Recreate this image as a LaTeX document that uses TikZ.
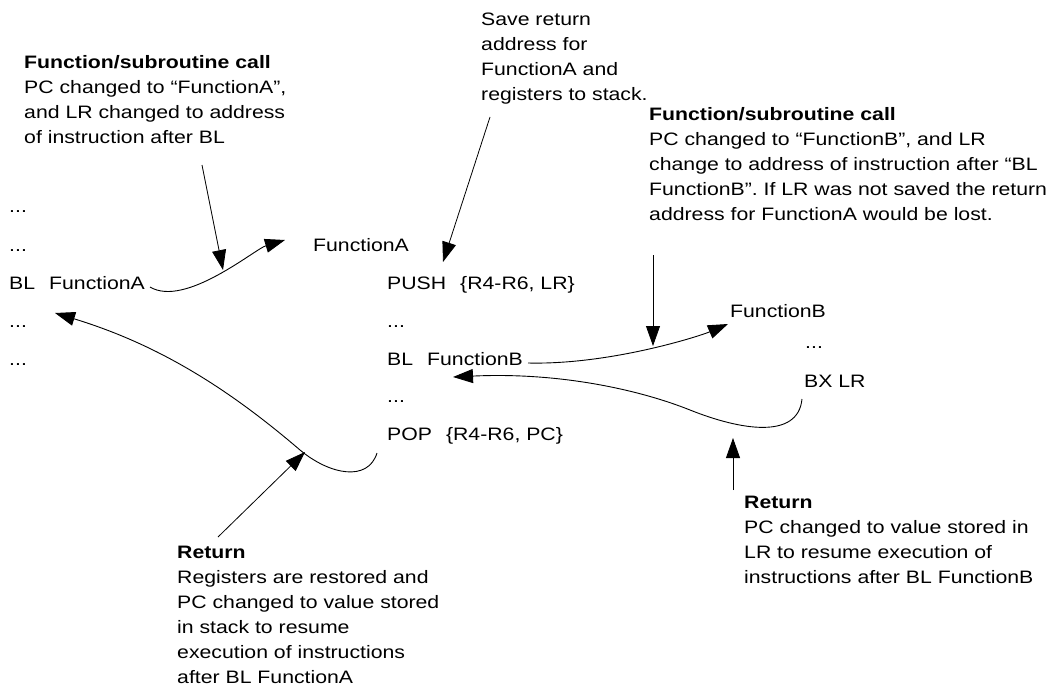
\documentclass[tikz,border=0pt]{standalone}
\usepackage{fontspec}
\setmainfont{Liberation Sans}[FakeStretch=1.18]
\usepackage{tikz}
\usetikzlibrary{arrows.meta}
\tikzset{
  code/.style={anchor=base west, inner sep=0pt, font=\fontsize{18}{25}\selectfont},
  note/.style={anchor=base west, inner sep=0pt, align=left,
    font=\fontsize{18}{25}\selectfont},
  flow/.style={-{Triangle[length=20pt,width=14pt]}, line width=0.9pt},
  pointer/.style={-{Triangle[length=20pt,width=14pt]}, line width=0.8pt}
}

\begin{document}
\begin{tikzpicture}[x=1pt,y=-1pt]
  \useasboundingbox (0,0) rectangle (1058,688);
  % caller
  \node[code] (c1) at (9,212) {...};
  \node[code] (c2) at (9,251) {...};
  \node[code] (blA) at (9,289) {BL\hspace{14pt}FunctionA};
  \node[code] (c4) at (9,327) {...};
  \node[code] (c5) at (9,365) {...};
  % FunctionA
  \node[code] (fnA) at (313,251) {FunctionA};
  \node[code] (push) at (387,289) {PUSH\hspace{14pt}\{R4-R6, LR\}};
  \node[code] (a2) at (387,327) {...};
  \node[code] (blB) at (387,365) {BL\hspace{14pt}FunctionB};
  \node[code] (a4) at (387,402) {...};
  \node[code] (pop) at (387,440) {POP\hspace{14pt}\{R4-R6, PC\}};
  % FunctionB
  \node[code] (fnB) at (730,317) {FunctionB};
  \node[code] (b2) at (805,348) {...};
  \node[code] (bx) at (804,387) {BX LR};
  % notes (placed by their last line)
  \node[note] (callA) at (24,143) {\textbf{Function/subroutine call}\\PC changed to “FunctionA”,\\and LR changed to address\\of instruction after BL};
  \node[note] (save) at (481,100) {Save return\\address for\\FunctionA and\\registers to stack.};
  \node[note] (callB) at (649,220) {\textbf{Function/subroutine call}\\PC changed to “FunctionB”, and LR\\change to address of instruction after “BL\\FunctionB”. If LR was not saved the return\\address for FunctionA would be lost.};
  \node[note] (retB) at (744,583) {\textbf{Return}\\PC changed to value stored in\\LR to resume execution of\\instructions after BL FunctionB};
  \node[note] (retA) at (177,683) {\textbf{Return}\\Registers are restored and\\PC changed to value stored\\in stack to resume\\execution of instructions\\after BL FunctionA};
  % curve ends
  \coordinate (blAout) at (150,287);
  \coordinate (fnAin) at (285,240);
  \coordinate (blBout) at (528,363);
  \coordinate (fnBin) at (728,324);
  \coordinate (bxout) at (802,399);
  \coordinate (blBin) at (453,377);
  \coordinate (popout) at (377,453);
  \coordinate (c4in) at (55,313);
  % pointer ends
  \coordinate (callAfoot) at (202,165);
  \coordinate (callAhit) at (223,270);
  \coordinate (savefoot) at (490,117);
  \coordinate (savehit) at (443,262);
  \coordinate (callBfoot) at (653,255);
  \coordinate (callBhit) at (653,346);
  \coordinate (retAfoot) at (218,537);
  \coordinate (retAhit) at (305,452);
  \coordinate (retBfoot) at (733,490);
  \coordinate (retBhit) at (733,438);
  % calls and returns
  \draw[flow] (blAout) .. controls (185,308) and (255,249) .. (fnAin);
  \draw[flow] (blBout) .. controls (610,365) and (700,336) .. (fnBin);
  \draw[flow] (bxout) .. controls (798,440) and (740,430) .. (690,410)
    .. controls (640,390) and (560,372) .. (blBin);
  \draw[flow] (popout) .. controls (368,482) and (330,475) .. (300,450)
    .. controls (230,390) and (160,345) .. (c4in);
  % note pointers
  \draw[pointer] (callAfoot) -- (callAhit);
  \draw[pointer] (savefoot) -- (savehit);
  \draw[pointer] (callBfoot) -- (callBhit);
  \draw[pointer] (retAfoot) -- (retAhit);
  \draw[pointer] (retBfoot) -- (retBhit);
\end{tikzpicture}
\end{document}
